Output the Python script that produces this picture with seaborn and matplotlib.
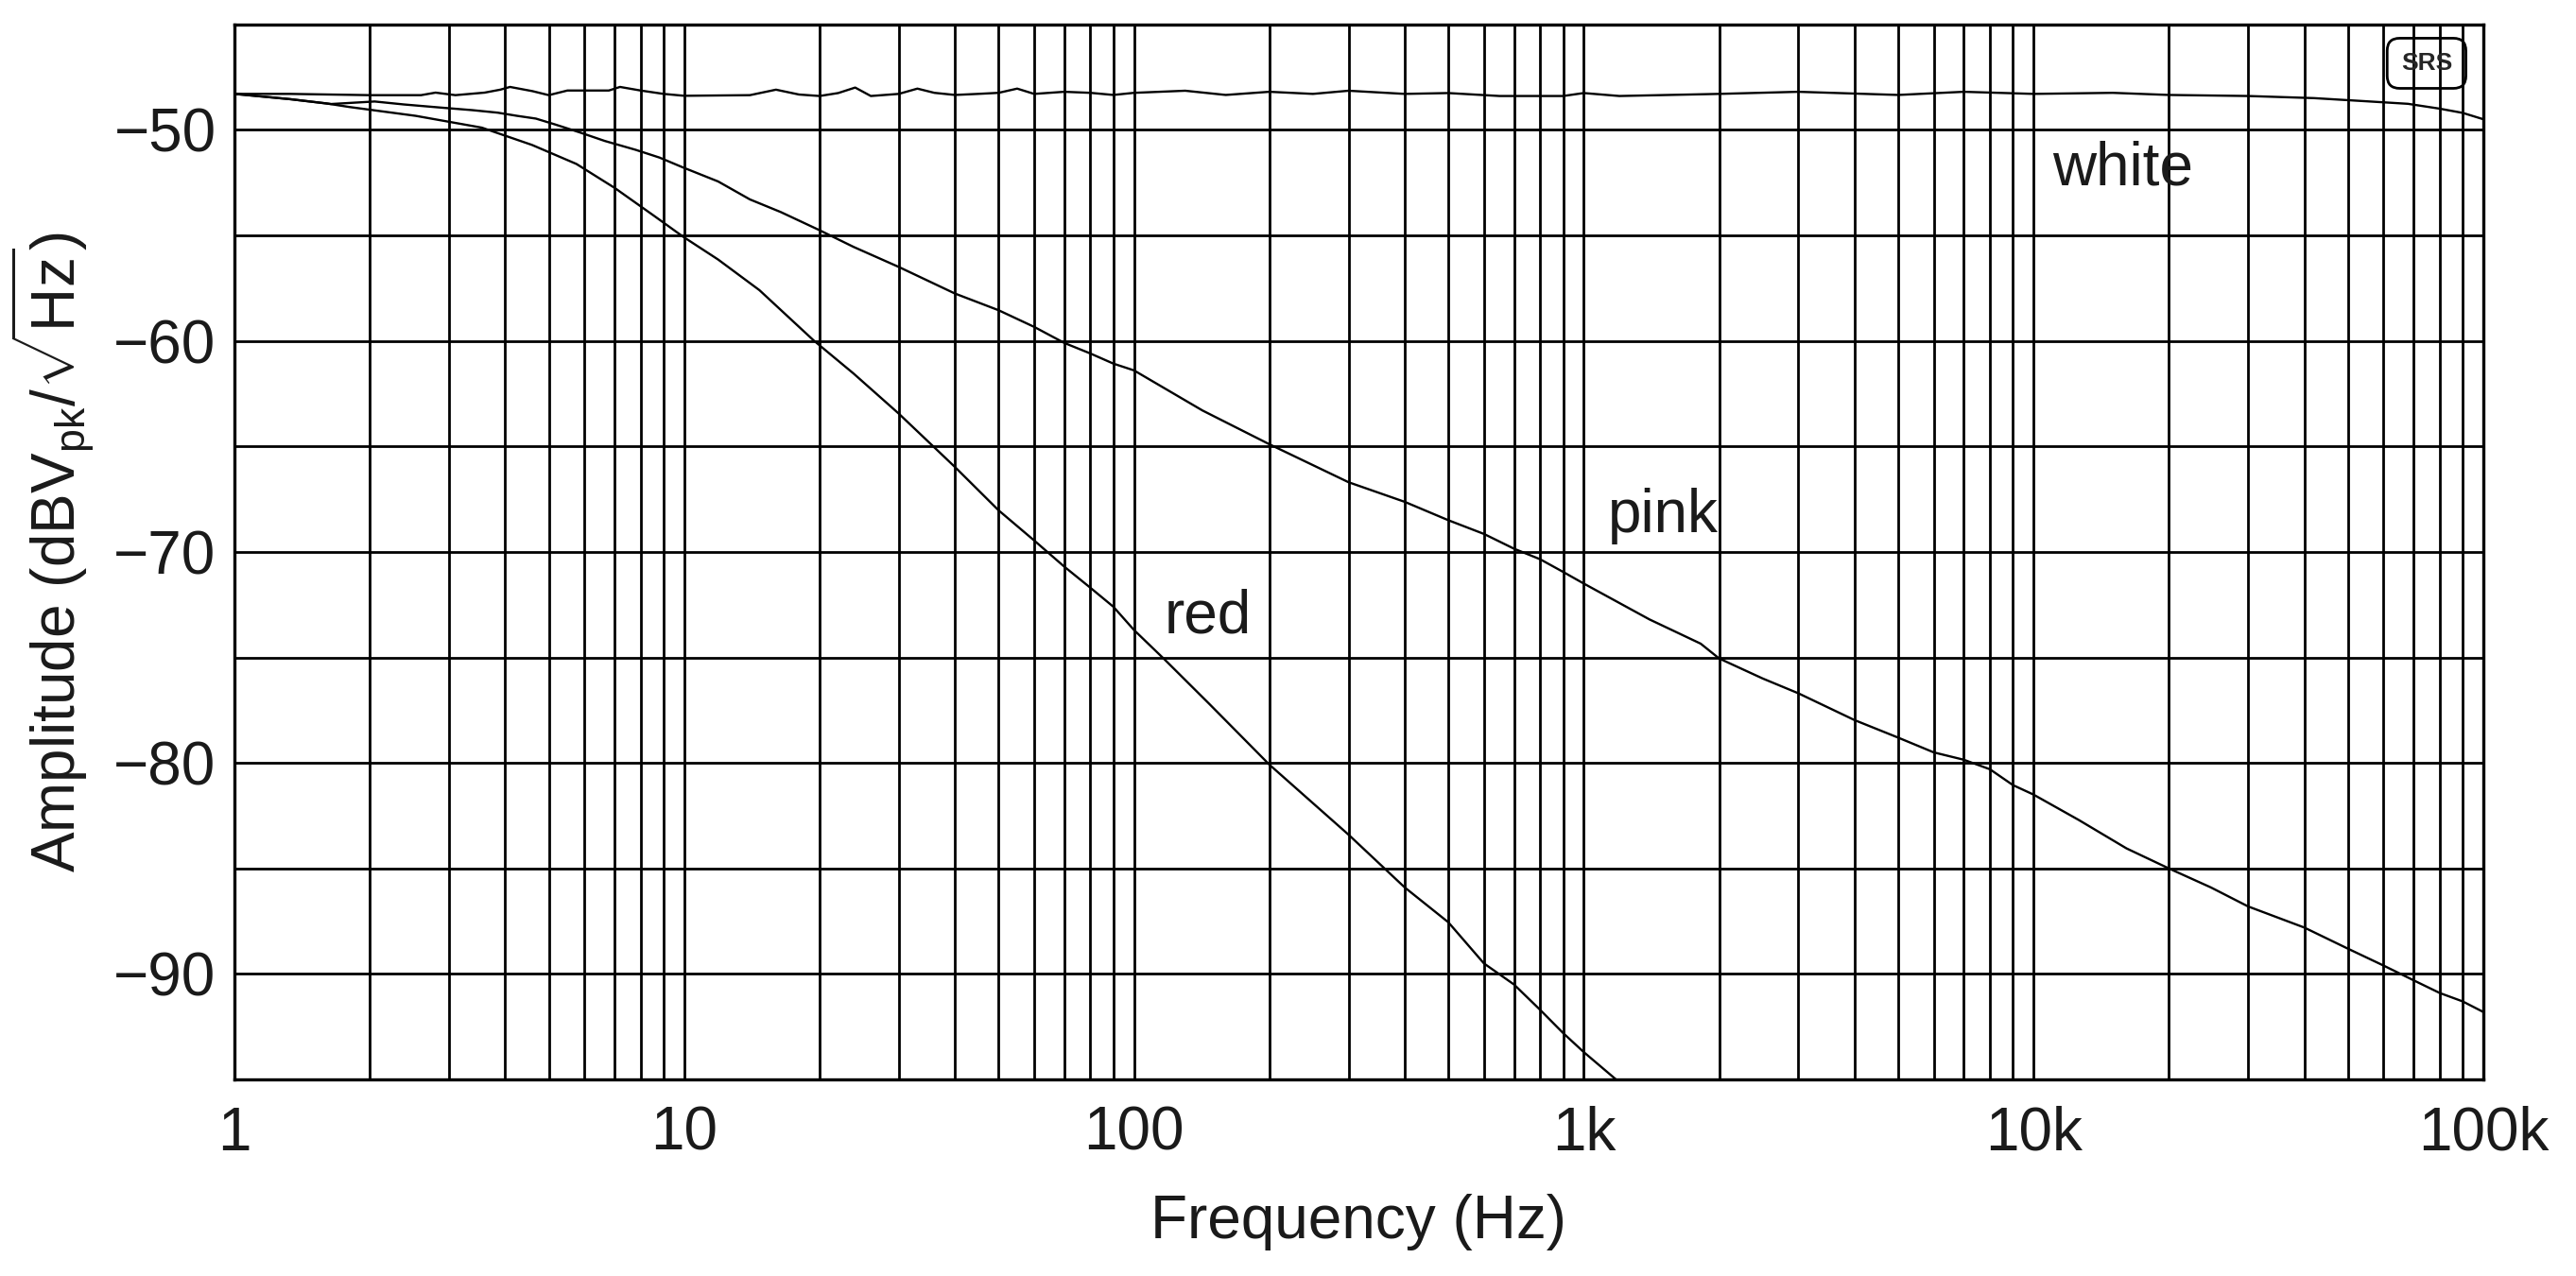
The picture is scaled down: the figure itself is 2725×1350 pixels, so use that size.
import matplotlib
matplotlib.use("Agg")
import matplotlib.pyplot as plt
import seaborn as sns
from matplotlib.ticker import NullLocator

# values (Hz, dBVpk/sqrt(Hz))
white_freq = [1, 1.33, 2.0, 2.6, 2.8, 3.1, 3.6, 3.9, 4.1, 4.6, 5.0, 5.5, 6.8, 7.2, 8.0, 9.0,
              10, 14, 16, 18, 20, 22, 24, 26, 30, 33, 36, 40, 45, 50, 55, 60, 70, 80, 90,
              100, 130, 160, 200, 250, 300, 400, 500, 650, 900, 1000, 1200, 2000, 3000,
              5000, 7000, 10000, 15000, 20000, 30000, 42000, 55000, 68000, 80000, 90000, 100000]
white_db = [-48.30, -48.30, -48.36, -48.36, -48.24, -48.36, -48.24, -48.10, -47.97, -48.17,
            -48.36, -48.14, -48.14, -47.97, -48.14, -48.30, -48.39, -48.36, -48.10, -48.33,
            -48.40, -48.26, -48.00, -48.40, -48.30, -48.05, -48.25, -48.35, -48.30, -48.25,
            -48.05, -48.30, -48.20, -48.25, -48.35, -48.25, -48.15, -48.35, -48.20, -48.30,
            -48.15, -48.30, -48.26, -48.40, -48.40, -48.26, -48.40, -48.30, -48.20, -48.35,
            -48.20, -48.30, -48.25, -48.35, -48.40, -48.50, -48.65, -48.77, -49.00, -49.20, -49.50]

pink_freq = [1, 1.33, 1.64, 2.05, 2.38, 2.88, 3.38, 3.85, 4.25, 4.68, 5.15, 5.85, 6.66, 7.8,
             8.82, 9.9, 11.9, 14, 16.4, 20, 23.8, 30, 40, 50, 60, 70, 80, 90, 100, 142, 200,
             300, 400, 500, 600, 700, 800, 900, 1000, 1400, 1820, 2000, 2500, 3000, 4000,
             5000, 6000, 7000, 8000, 9000, 10000, 12600, 16100, 20000, 24800, 30000, 40000,
             50000, 60000, 70000, 80000, 90000, 100000]
pink_db = [-48.30, -48.55, -48.78, -48.66, -48.80, -48.95, -49.07, -49.19, -49.34, -49.47,
           -49.74, -50.12, -50.53, -50.95, -51.32, -51.77, -52.45, -53.30, -53.90, -54.76,
           -55.55, -56.50, -57.76, -58.55, -59.34, -60.10, -60.60, -61.08, -61.40, -63.30,
           -64.90, -66.70, -67.63, -68.50, -69.15, -69.85, -70.35, -70.95, -71.50, -73.20,
           -74.35, -75.05, -76.00, -76.70, -77.97, -78.80, -79.50, -79.85, -80.30, -81.05,
           -81.50, -82.70, -84.05, -85.00, -85.90, -86.80, -87.80, -88.80, -89.60, -90.30,
           -90.90, -91.30, -91.80]

red_freq = [1, 1.33, 1.6, 1.8, 2.53, 3.55, 4.59, 5.76, 7.0, 8.6, 9.95, 11.9, 14.7, 19.4,
            23.8, 30, 40, 50, 60, 70, 80, 90, 100, 117, 147, 200, 300, 400, 500, 600, 700,
            800, 900, 1000, 1180]
red_db = [-48.30, -48.55, -48.75, -48.92, -49.34, -49.90, -50.72, -51.62, -52.75, -54.10,
          -55.07, -56.15, -57.60, -59.98, -61.55, -63.45, -65.98, -68.03, -69.46, -70.70,
          -71.70, -72.60, -73.70, -75.10, -77.20, -80.08, -83.40, -85.90, -87.55, -89.50,
          -90.50, -91.70, -92.80, -93.70, -95.00]

x_grid = [1, 2, 3, 4, 5, 6, 7, 8, 9, 10, 20, 30, 40, 50, 60, 70, 80, 90,
          100, 200, 300, 400, 500, 600, 700, 800, 900, 1000, 2000, 3000, 4000, 5000,
          6000, 7000, 8000, 9000, 10000, 20000, 30000, 40000, 50000, 60000, 70000,
          80000, 90000, 100000]
x_labels = {1: "1", 10: "10", 100: "100", 1000: "1k", 10000: "10k", 100000: "100k"}
y_grid = [-95, -90, -85, -80, -75, -70, -65, -60, -55, -50, -45]
y_labels = {-90: "\u221290", -80: "\u221280", -70: "\u221270", -60: "\u221260", -50: "\u221250"}

sns.set_style("white")
plt.rcParams["font.family"] = ["Liberation Sans", "DejaVu Sans"]
plt.rcParams["mathtext.fontset"] = "custom"
plt.rcParams["mathtext.rm"] = "Liberation Sans"
plt.rcParams["mathtext.it"] = "Liberation Sans:italic"
plt.rcParams["mathtext.sf"] = "Liberation Sans"

fig, ax = plt.subplots(figsize=(27.25, 13.5), dpi=100)
fig.subplots_adjust(left=0.091, right=0.964, top=0.981, bottom=0.154)

for fr, db in [(white_freq, white_db), (pink_freq, pink_db), (red_freq, red_db)]:
    sns.lineplot(x=fr, y=db, ax=ax, color="black", linewidth=1.7, zorder=3)

ax.set_xscale("log")
ax.set_xlim(1, 1e5)
ax.set_ylim(-95, -45)
ax.set_xticks(x_grid, labels=[x_labels.get(v, "") for v in x_grid])
ax.xaxis.set_minor_locator(NullLocator())
ax.set_yticks(y_grid, labels=[y_labels.get(v, "") for v in y_grid])
ax.grid(True, color="black", linewidth=2.0)
ax.tick_params(axis="both", length=0, labelsize=46, colors="#1a1a1a")
ax.tick_params(axis="x", pad=20)
ax.tick_params(axis="y", pad=14)
for sp in ax.spines.values():
    sp.set_color("black")
    sp.set_linewidth(2.4)

ax.set_xlabel("Frequency (Hz)", fontsize=46, labelpad=24, color="#1a1a1a")
ax.set_ylabel(r"Amplitude (dBV$_\mathrm{pk}$/$\sqrt{\mathrm{Hz}}$)", fontsize=46,
              labelpad=14, color="#1a1a1a")

# curve names
ax.text(11000, -52.6, "white", fontsize=46, va="baseline", color="#1a1a1a")
ax.text(1130, -69.05, "pink", fontsize=46, va="baseline", color="#1a1a1a")
ax.text(117, -73.85, "red", fontsize=46, va="baseline", color="#1a1a1a")

# instrument logo
ax.text(74800, -46.85, "SRS", fontsize=19, fontweight="bold", ha="center", va="center",
        bbox=dict(boxstyle="round,pad=0.55,rounding_size=0.5", fc="none", ec="black", lw=2))

fig.savefig("out.png", dpi=100)
